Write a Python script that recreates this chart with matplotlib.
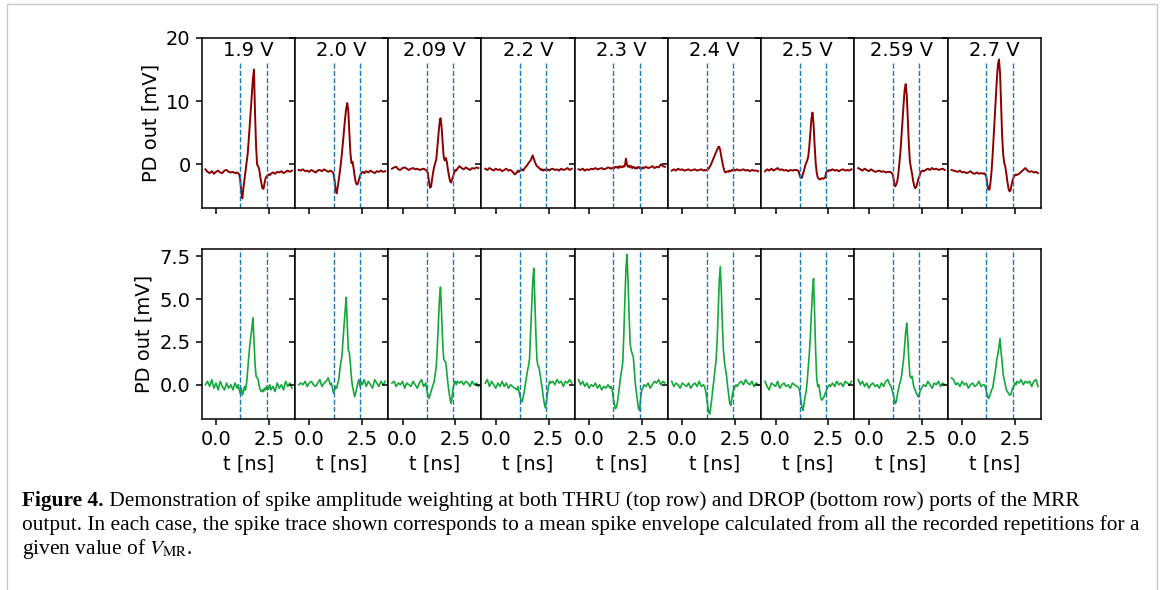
import matplotlib
matplotlib.use("Agg")
import matplotlib.pyplot as plt
from matplotlib.patches import Rectangle

# time axis [ns] (finer sampling around the spike)
t_ns = [-0.5, -0.4, -0.3, -0.2, -0.1, 0.0, 0.1, 0.2, 0.3, 0.4, 0.5, 0.6, 0.7, 0.8, 0.9, 1.0,
        1.05, 1.1, 1.15, 1.2, 1.25, 1.3, 1.35, 1.4,
        1.45, 1.5, 1.55, 1.6, 1.65, 1.7, 1.75, 1.8,
        1.85, 1.9, 1.95, 2.0, 2.05, 2.1, 2.15, 2.2,
        2.25, 2.3, 2.35, 2.4, 2.45, 2.5, 2.55, 2.6,
        2.7, 2.8, 2.9, 3.0, 3.1, 3.2, 3.3, 3.4, 3.5, 3.6]

voltages = ["1.9 V", "2.0 V", "2.09 V", "2.2 V", "2.3 V", "2.4 V", "2.5 V", "2.59 V", "2.7 V"]
window = [1.15, 2.4]

# THRU port (top row), mV
thru_1v9 = [-0.8, -1.2, -1.4, -1.1, -1.5, -1.2, -1.0, -1.3, -1.4, -1.0, -0.9, -1.2, -1.3, -1.2, -1.4, -1.3,
            -1.4, -1.6, -2.5, -4.5, -5.4, -3.7, -2.4, -1.1,
            0.3, 1.6, 3.8, 6.2, 8.7, 11.1, 13.6, 15.0,
            8.0, 2.8, -0.1, -0.3, -0.9, -2.0, -3.0, -3.8,
            -3.9, -3.0, -2.2, -1.9, -1.8, -1.6, -1.7, -1.5,
            -1.3, -1.5, -1.2, -1.3, -1.1, -1.4, -1.2, -1.0, -1.2, -1.0]
thru_2v0 = [-0.9, -1.0, -0.8, -1.1, -1.0, -1.2, -0.9, -1.1, -1.3, -1.0, -0.9, -1.1, -0.8, -1.0, -1.2, -1.0,
            -1.1, -1.2, -1.5, -2.6, -4.0, -4.6, -3.6, -2.4,
            -1.2, 0.2, 1.8, 3.6, 5.5, 7.3, 8.8, 9.7,
            8.5, 5.0, 1.8, 0.2, 0.4, -0.6, -1.8, -2.8,
            -3.2, -3.1, -2.5, -1.9, -1.5, -1.3, -1.2, -1.4,
            -1.1, -1.3, -1.0, -1.2, -1.4, -1.1, -1.2, -1.0, -1.2, -1.1]
thru_2v09 = [-0.7, -0.5, -0.4, -0.8, -0.9, -0.6, -0.5, -0.7, -0.9, -0.7, -0.6, -0.8, -0.7, -0.9, -0.8, -0.7,
             -0.8, -0.9, -1.0, -1.4, -2.6, -3.7, -3.6, -2.4,
             -1.3, -0.4, 0.2, 0.8, 2.6, 4.6, 6.4, 7.3,
             6.0, 3.5, 1.2, 0.6, 1.0, 0.4, -0.8, -1.8,
             -2.6, -2.9, -2.4, -1.9, -1.3, -0.9, -1.0, -0.7,
             -0.3, -0.6, -0.8, -0.5, -0.7, -0.9, -0.6, -0.7, -0.5, -0.6]
thru_2v2 = [-0.7, -0.9, -0.6, -0.8, -1.0, -0.7, -0.9, -0.8, -1.1, -0.9, -0.7, -1.0, -0.9, -1.2, -1.6, -1.3,
            -1.0, -1.2, -1.0, -0.9, -0.8, -1.0, -0.7, -0.5,
            -0.3, -0.1, 0.2, 0.4, 0.6, 1.0, 1.4, 0.9,
            0.4, 0.0, -0.3, -0.4, -0.6, -0.7, -0.9, -0.8,
            -1.0, -0.9, -0.8, -1.0, -0.8, -0.9, -1.0, -0.8,
            -0.7, -0.9, -0.8, -1.0, -0.7, -0.9, -0.8, -0.6, -0.9, -0.7]
thru_2v3 = [-0.8, -0.9, -0.7, -1.0, -0.8, -0.9, -0.7, -0.8, -0.6, -0.8, -0.7, -0.6, -0.8, -0.7, -0.5, -0.6,
            -0.7, -0.6, -0.5, -0.6, -0.4, -0.5, -0.4, -0.6,
            -0.3, -0.4, -0.5, -0.3, -0.4, -0.2, 0.9, -0.1,
            -0.4, -0.2, -0.5, -0.3, -0.6, -0.4, -0.5, -0.7,
            -0.5, -0.6, -0.4, -0.6, -0.5, -0.7, -0.5, -0.6,
            -0.4, -0.6, -0.5, -0.3, -0.6, -0.4, -0.5, 0.0, -0.3, -0.4]
thru_2v4 = [-1.0, -0.8, -1.0, -0.7, -0.9, -0.8, -1.0, -0.9, -0.8, -1.0, -0.9, -0.8, -1.0, -0.9, -0.8, -1.0,
            -0.9, -1.0, -0.9, -0.8, -0.7, -0.4, -0.1, 0.3,
            0.7, 1.1, 1.5, 1.9, 2.3, 2.7, 2.8, 2.2,
            1.2, 0.3, -0.5, -1.1, -1.3, -1.2, -1.1, -1.2,
            -1.0, -1.1, -0.9, -1.0, -0.8, -1.0, -0.9, -0.8,
            -1.0, -0.9, -0.8, -1.0, -0.9, -1.1, -0.9, -1.0, -1.0, -1.1]
thru_2v5 = [-1.1, -0.8, -1.0, -0.7, -1.0, -0.8, -0.6, -0.9, -0.8, -1.0, -0.9, -1.1, -0.9, -1.0, -0.9, -0.9,
            -1.0, -1.1, -1.8, -2.2, -2.1, -1.5, -1.0, -0.3,
            0.2, 0.6, 1.2, 2.8, 5.0, 7.2, 8.2, 6.5,
            3.2, 0.3, -1.3, -2.1, -2.3, -2.4, -2.3, -2.2,
            -2.3, -2.2, -2.1, -1.3, -1.0, -1.1, -0.9, -1.0,
            -0.8, -1.0, -0.9, -1.1, -0.9, -0.8, -1.0, -0.9, -1.0, -0.8]
thru_2v59 = [-0.6, -0.8, -1.0, -0.7, -0.9, -1.1, -0.8, -1.0, -1.2, -1.1, -1.0, -1.2, -1.1, -1.3, -1.2, -1.2,
             -1.3, -1.4, -1.8, -2.9, -3.5, -3.2, -2.7, -1.5,
             0.2, 2.0, 4.5, 7.0, 9.6, 11.8, 12.7, 11.0,
             7.0, 3.0, 0.4, -0.6, -1.5, -2.6, -3.4, -3.8,
             -3.6, -3.0, -2.3, -1.9, -1.3, -1.1, -1.0, -1.1,
             -0.9, -0.7, -0.9, -0.6, -0.8, -0.7, -0.9, -0.8, -0.7, -0.9]
thru_2v7 = [-0.9, -1.0, -1.1, -1.2, -1.0, -1.3, -1.2, -1.4, -1.3, -1.1, -1.4, -1.5, -1.3, -1.5, -1.4, -1.5,
            -1.4, -1.6, -2.0, -3.3, -4.0, -4.0, -2.8, -1.0,
            1.5, 4.5, 7.5, 10.5, 13.5, 15.8, 16.6, 14.5,
            9.5, 4.5, 1.5, 0.2, -0.4, -1.5, -2.8, -3.8,
            -4.3, -4.1, -3.2, -2.5, -2.0, -1.8, -1.6, -1.7,
            -1.5, -1.2, -0.9, -0.6, -1.0, -1.2, -1.1, -1.3, -1.2, -1.4]

# DROP port (bottom row), mV
drop_1v9 = [0.0, 0.2, -0.1, 0.3, -0.2, 0.1, -0.3, 0.2, -0.1, -0.3, 0.1, -0.2, 0.0, -0.3, 0.1, -0.2,
            0.0, -0.3, -0.5, -0.2, -0.6, -0.4, -0.1, -0.3,
            0.1, 0.8, 1.6, 2.3, 2.8, 3.3, 3.9, 2.6,
            1.2, 0.5, 0.4, 0.3, -0.1, -0.3, -0.4, -0.3,
            -0.4, -0.2, -0.3, -0.1, -0.3, -0.2, 0.0, -0.3,
            -0.1, -0.4, 0.1, -0.2, 0.0, -0.3, 0.2, -0.1, 0.1, -0.2]
drop_2v0 = [0.0, 0.1, 0.0, 0.2, -0.1, 0.1, 0.2, 0.0, -0.1, 0.1, 0.3, -0.1, 0.1, 0.2, 0.4, 0.0,
            0.1, -0.2, -0.5, -0.3, -0.1, -0.2, 0.1, 0.3,
            0.9, 1.3, 1.7, 2.6, 3.5, 4.3, 5.1, 3.6,
            2.0, 1.9, 1.2, 0.4, -0.1, -0.4, -0.7, -0.5,
            -0.2, 0.1, 0.3, -0.1, 0.2, 0.0, 0.1, 0.3,
            -0.1, 0.2, 0.0, -0.2, 0.3, 0.1, -0.1, 0.2, 0.0, 0.2]
drop_2v09 = [0.1, 0.2, -0.1, 0.1, 0.0, 0.2, -0.2, 0.1, 0.0, -0.1, 0.2, 0.0, -0.2, 0.1, 0.3, -0.1,
             0.0, 0.1, -0.3, -0.6, -0.8, -0.6, -0.4, -0.2,
             0.0, 0.2, 0.6, 1.1, 2.2, 3.6, 5.0, 5.7,
             4.2, 2.6, 1.5, 1.4, 1.3, 0.7, 0.1, -0.4,
             -0.8, -1.1, -0.7, -0.2, 0.1, 0.2, 0.0, 0.2,
             0.1, 0.2, 0.0, 0.2, 0.1, -0.1, 0.2, 0.0, 0.1, -0.1]
drop_2v2 = [0.1, 0.3, -0.1, 0.2, 0.0, -0.2, 0.1, -0.1, 0.2, -0.1, 0.1, -0.2, 0.0, -0.1, -0.2, -0.3,
            -0.1, -0.4, -0.7, -0.9, -1.0, -0.7, -0.4, 0.0,
            0.4, 0.8, 1.1, 1.5, 3.0, 4.5, 6.0, 6.8,
            5.0, 3.0, 1.5, 1.1, 1.0, 0.6, 0.2, -0.2,
            -0.7, -1.1, -1.35, -1.0, -0.5, -0.1, 0.2, 0.1,
            0.2, 0.0, 0.3, 0.1, 0.2, -0.1, 0.2, 0.1, 0.3, 0.1]
drop_2v3 = [0.3, 0.0, 0.2, -0.1, 0.1, -0.2, 0.0, -0.1, 0.1, -0.2, 0.0, -0.3, -0.1, -0.2, 0.0, -0.2,
            -0.1, -0.3, -0.8, -1.1, -1.4, -1.3, -1.0, -0.5,
            0.0, 0.5, 0.9, 1.3, 3.0, 5.0, 6.8, 7.6,
            6.0, 4.0, 2.4, 2.0, 1.8, 1.6, 0.8, 0.0,
            -0.5, -1.0, -1.4, -1.5, -0.7, -0.3, -0.2, 0.0,
            -0.1, 0.1, -0.2, 0.0, 0.2, 0.1, 0.3, 0.0, 0.2, 0.1]
drop_2v4 = [0.2, -0.1, 0.1, 0.0, -0.2, 0.1, 0.0, -0.1, 0.1, -0.2, 0.0, 0.1, -0.1, 0.2, -0.1, 0.0,
            -0.1, -0.3, -0.7, -1.2, -1.6, -1.7, -1.3, -0.8,
            -0.2, 0.3, 0.9, 1.4, 2.5, 4.2, 6.0, 6.9,
            5.5, 3.5, 2.0, 1.3, 0.9, 0.5, -0.1, -0.6,
            -1.1, -1.2, -0.8, -0.4, -0.3, -0.1, 0.0, -0.1,
            0.1, 0.2, 0.0, 0.3, 0.1, 0.0, 0.2, -0.1, 0.1, 0.0]
drop_2v5 = [0.2, -0.1, -0.3, 0.1, 0.0, -0.1, 0.2, -0.2, 0.0, 0.1, -0.1, 0.0, -0.2, 0.1, 0.0, -0.1,
            -0.1, -0.2, -0.4, -0.9, -1.3, -1.5, -1.1, -0.7,
            -0.4, 0.2, 1.0, 1.8, 2.8, 4.2, 5.4, 6.2,
            4.2, 2.0, 0.4, -0.1, 0.0, -0.4, -0.8, -0.9,
            -0.8, -0.7, -0.5, -0.4, -0.2, -0.1, 0.0, -0.1,
            0.1, -0.1, 0.2, 0.0, 0.1, -0.1, 0.2, 0.1, 0.0, 0.2]
drop_2v59 = [0.3, 0.0, 0.2, -0.1, 0.1, -0.2, 0.0, 0.1, -0.1, 0.0, -0.2, 0.1, -0.1, 0.2, 0.3, 0.0,
             -0.1, -0.3, -0.5, -0.8, -1.1, -1.0, -0.6, -0.3,
             0.0, 0.2, 0.5, 1.0, 1.5, 2.3, 3.1, 3.6,
             2.6, 1.4, 0.5, 0.4, 0.5, 0.1, -0.2, -0.3,
             -0.5, -0.6, -0.7, -0.5, -0.3, -0.2, -0.1, 0.0,
             -0.1, 0.2, 0.0, -0.2, 0.1, 0.0, 0.2, -0.1, 0.1, 0.0]
drop_2v7 = [0.4, 0.3, 0.0, 0.1, -0.1, 0.2, 0.0, 0.1, -0.2, 0.0, 0.1, -0.1, 0.0, 0.2, -0.1, 0.0,
            0.0, -0.1, -0.4, -0.6, -0.8, -0.7, -0.5, -0.3,
            -0.2, 0.2, 0.6, 1.0, 1.5, 1.8, 2.2, 2.7,
            1.9, 1.3, 0.6, 0.3, 0.0, -0.3, -0.4, -0.5,
            -0.6, -0.6, -0.4, -0.2, -0.1, 0.1, 0.0, 0.2,
            0.1, 0.3, 0.0, 0.2, 0.1, 0.2, -0.1, 0.2, 0.3, -0.1]

thru = [thru_1v9, thru_2v0, thru_2v09, thru_2v2, thru_2v3, thru_2v4, thru_2v5, thru_2v59, thru_2v7]
drop = [drop_1v9, drop_2v0, drop_2v09, drop_2v2, drop_2v3, drop_2v4, drop_2v5, drop_2v59, drop_2v7]

plt.rcParams["font.size"] = 14
plt.rcParams["axes.linewidth"] = 1.1
plt.rcParams["xtick.major.width"] = 1.1
plt.rcParams["ytick.major.width"] = 1.1
plt.rcParams["xtick.major.size"] = 4.5
plt.rcParams["ytick.major.size"] = 4.5
plt.rcParams["mathtext.fontset"] = "stix"

fig, axes = plt.subplots(2, 9, figsize=(11.67, 5.9), dpi=100, sharex=True, sharey="row")
fig.subplots_adjust(left=0.1728, right=0.892, top=0.9356, bottom=0.2898, wspace=0, hspace=0.235)

for i in range(9):
    top = axes[0, i]
    bot = axes[1, i]
    top.plot(t_ns, thru[i], color="#8b0000", lw=1.4)
    bot.plot(t_ns, drop[i], color="#14a83a", lw=1.2)
    for w in window:
        # in the top row the markers stop below the voltage label
        top.axvline(w, ymax=0.855, color="tab:blue", ls="--", lw=1.0)
        bot.axvline(w, color="tab:blue", ls="--", lw=1.0)
    top.text(0.5, 0.925, voltages[i], transform=top.transAxes, ha="center", va="center")
    bot.set_xlabel("t [ns]")

axes[0, 0].set_xlim(-0.68, 3.74)
axes[0, 0].set_xticks([0, 2.5])
axes[0, 0].set_ylim(-7, 20)
axes[0, 0].set_yticks([0, 10, 20])
axes[1, 0].set_ylim(-2, 7.95)
axes[1, 0].set_yticks([0, 2.5, 5, 7.5])
axes[0, 0].set_ylabel("PD out [mV]")
axes[1, 0].set_ylabel("PD out [mV]")

# page frame and caption
fig.patches.append(Rectangle((7 / 1167, -0.05), 1150 / 1167, 1.05 - 4 / 590,
                             transform=fig.transFigure, fill=False,
                             edgecolor="#c8c8c8", lw=1.0))

cap = dict(family="Liberation Serif", fontsize=15.4, va="center")
x0 = 22 / 1167
t1 = fig.text(x0, 1 - 501 / 590, "Figure 4.", weight="bold", **cap)
fig.canvas.draw()
bb = t1.get_window_extent(fig.canvas.get_renderer())
fig.text(bb.x1 / fig.bbox.width, 1 - 501 / 590,
         " Demonstration of spike amplitude weighting at both THRU (top row) and DROP "
         "(bottom row) ports of the MRR", **cap)
fig.text(x0, 1 - 525 / 590,
         "output. In each case, the spike trace shown corresponds to a mean spike envelope "
         "calculated from all the recorded repetitions for a", **cap)
fig.text(x0, 1 - 549 / 590, r"given value of $V_{\mathrm{MR}}$.", **cap)

fig.savefig("out.png", dpi=100)
